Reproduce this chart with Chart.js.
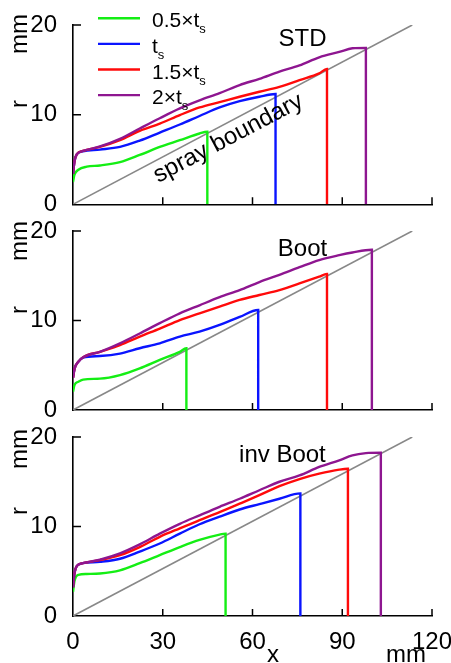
<!DOCTYPE html>
<html><head><meta charset="utf-8">
<script src="https://cdn.jsdelivr.net/npm/chart.js@4"></script>
<style>
html,body{margin:0;padding:0;background:#fff;width:451px;height:663px;overflow:hidden}
canvas{position:absolute;left:0;top:0}
</style></head><body>
<canvas id="c1" width="451" height="663" style="width:451px;height:663px"></canvas>
<canvas id="c2" width="451" height="663" style="width:451px;height:663px"></canvas>
<canvas id="c3" width="451" height="663" style="width:451px;height:663px"></canvas>
<script>
// ---------------- data ----------------
const xTickValues = [0, 30, 60, 90, 120];
const rTickValues = [0, 10, 20];
const seriesLabels = ['0.5×t_s', 't_s', '1.5×t_s', '2×t_s'];
const panelTitles = ['STD', 'Boot', 'inv Boot'];
const boundaryLabel = 'spray boundary';
const boundaryX = [0, 113.4];
const boundaryR = [0, 20];

// STD
const stdX05 = [0, 0.5, 1.8, 4.6, 9, 15.7, 22.3, 29, 35.7, 42.3, 44.9, 44.9];
const stdR05 = [2.5, 3.3, 3.85, 4.2, 4.33, 4.7, 5.5, 6.4, 7.15, 7.9, 8.1, 0];
const stdX10 = [0, 0.5, 1.3, 3.3, 9, 15.7, 22.3, 29, 35.7, 42.3, 49, 55.7, 62.3, 67.7, 67.7];
const stdR10 = [3.4, 4.8, 5.6, 5.9, 6.1, 6.4, 7.1, 8.0, 8.9, 9.85, 10.8, 11.5, 12.0, 12.3, 0];
const stdX15 = [0, 0.5, 1.3, 3.3, 9, 15.7, 22.3, 29, 35.7, 42.3, 49, 55.7, 62.3, 69, 75.7, 82.3, 84.9, 84.9];
const stdR15 = [3.4, 4.8, 5.6, 5.95, 6.4, 7.15, 8.2, 9.0, 9.95, 10.8, 11.4, 12.0, 12.55, 13.1, 13.85, 14.6, 15.1, 0];
const stdX20 = [0, 0.5, 1.3, 3.3, 9, 15.7, 22.3, 29, 35.7, 42.3, 49, 55.7, 62.3, 69, 75.7, 82.3, 89, 93.4, 97.9, 97.9];
const stdR20 = [3.4, 4.8, 5.6, 5.95, 6.45, 7.3, 8.45, 9.6, 10.7, 11.6, 12.4, 13.3, 14.0, 14.8, 15.5, 16.4, 17.0, 17.4, 17.45, 0];

// Boot
const bootX05 = [0, 0.5, 1.8, 3.4, 9, 15.7, 22.3, 29, 35.7, 37.9, 37.9];
const bootR05 = [2.05, 2.8, 3.15, 3.4, 3.5, 3.9, 4.65, 5.6, 6.5, 6.9, 0];
const bootX10 = [0, 0.5, 1.8, 3.4, 9, 15.7, 22.3, 29, 35.7, 42.3, 49, 55.7, 61.9, 61.9];
const bootR10 = [3.6, 4.6, 5.4, 5.85, 6.03, 6.3, 6.9, 7.45, 8.2, 8.75, 9.5, 10.4, 11.17, 0];
const bootX15 = [0, 0.5, 1.8, 3.4, 9, 15.7, 22.3, 29, 35.7, 42.3, 49, 55.7, 62.3, 69, 75.7, 82.3, 84.9, 84.9];
const bootR15 = [3.6, 4.6, 5.4, 5.9, 6.5, 7.25, 8.2, 9.1, 10.05, 10.8, 11.55, 12.3, 12.85, 13.4, 14.15, 14.9, 15.2, 0];
const bootX20 = [0, 0.5, 1.8, 3.4, 9, 15.7, 22.3, 29, 35.7, 42.3, 49, 55.7, 62.3, 69, 75.7, 82.3, 89, 93.4, 99.9, 99.9];
const bootR20 = [3.6, 4.6, 5.4, 5.9, 6.5, 7.45, 8.55, 9.7, 10.8, 11.7, 12.6, 13.4, 14.3, 15.1, 15.95, 16.75, 17.3, 17.6, 17.9, 0];

// inv Boot
const invX05 = [0, 0.5, 1.8, 4.6, 9, 15.7, 22.3, 29, 35.7, 42.3, 49, 51, 51];
const invR05 = [2.7, 3.9, 4.6, 4.7, 4.75, 5.1, 5.9, 6.8, 7.7, 8.5, 9.1, 9.2, 0];
const invX10 = [0, 0.5, 1.3, 3.3, 9, 15.7, 22.3, 29, 35.7, 42.3, 49, 55.7, 62.3, 69, 76, 76];
const invR10 = [3.2, 4.8, 5.6, 5.9, 6.05, 6.4, 7.2, 8.1, 9.2, 10.25, 11.1, 11.9, 12.5, 13.1, 13.7, 0];
const invX15 = [0, 0.5, 1.3, 3.3, 9, 15.7, 22.3, 29, 35.7, 42.3, 49, 55.7, 62.3, 69, 75.7, 82.3, 89, 91.9, 91.9];
const invR15 = [3.2, 4.8, 5.6, 5.9, 6.25, 6.8, 7.7, 8.85, 9.8, 10.7, 11.6, 12.55, 13.5, 14.5, 15.3, 15.9, 16.35, 16.45, 0];
const invX20 = [0, 0.5, 1.3, 3.3, 9, 15.7, 22.3, 29, 35.7, 42.3, 49, 55.7, 62.3, 69, 75.7, 82.3, 89, 93.4, 97.9, 102.9, 102.9];
const invR20 = [3.2, 4.8, 5.6, 5.9, 6.3, 7.0, 8.0, 9.2, 10.3, 11.25, 12.2, 13.1, 14.05, 15.0, 15.7, 16.65, 17.4, 17.95, 18.2, 18.25, 0];

// ---------------- styling ----------------
const FONT = "'Liberation Sans', Arial, Helvetica, sans-serif";
const COLORS = ['#14ee14', '#0a14ff', '#ff0a0a', '#8e1690'];
const GRAY = '#888888';
const W = 451, H = 663;
const LEFT = 73, RIGHT = 432;

function zip(xs, ys) { return xs.map((x, i) => ({x: x, y: ys[i]})); }

function buildDatasets(xsList, rsList) {
  const ds = xsList.map((xs, i) => ({
    label: seriesLabels[i],
    data: zip(xs, rsList[i]),
    borderColor: COLORS[i],
    borderWidth: 2.4,
    pointRadius: 0,
    cubicInterpolationMode: 'monotone',
    fill: false,
    order: 4 - i
  }));
  ds.push({
    label: boundaryLabel,
    data: zip(boundaryX, boundaryR),
    borderColor: GRAY,
    borderWidth: 1.6,
    pointRadius: 0,
    tension: 0,
    fill: false,
    order: 10
  });
  return ds;
}

function drawSubText(ctx, text, x, baseY, size, subSize, subDrop) {
  const parts = text.split('_');
  ctx.font = size + 'px ' + FONT;
  ctx.textAlign = 'left';
  ctx.textBaseline = 'alphabetic';
  ctx.fillText(parts[0], x, baseY);
  if (parts[1]) {
    const w = ctx.measureText(parts[0]).width;
    ctx.font = subSize + 'px ' + FONT;
    ctx.fillText(parts[1], x + w, baseY + subDrop);
  }
}

const panelPlugin = {
  id: 'panelDecor',
  afterDraw(chart, args, opts) {
    const {ctx, chartArea: a, scales: {x, y}} = chart;
    ctx.save();
    // inward tick marks
    ctx.strokeStyle = '#000';
    ctx.lineWidth = 1.5;
    ctx.beginPath();
    x.ticks.forEach(t => {
      if (t.value === 0) return;
      const px = x.getPixelForValue(t.value);
      ctx.moveTo(px, a.bottom); ctx.lineTo(px, a.bottom - 7);
    });
    y.ticks.forEach(t => {
      if (t.value === 0) return;
      const py = y.getPixelForValue(t.value);
      ctx.moveTo(a.left, py); ctx.lineTo(a.left + 8, py);
    });
    ctx.stroke();

    ctx.fillStyle = '#000';
    // panel title
    ctx.font = '24px ' + FONT;
    ctx.textAlign = 'center';
    ctx.textBaseline = 'middle';
    ctx.fillText(opts.title, x.getPixelForValue(opts.titleX), y.getPixelForValue(opts.titleR));

    // y axis label "mm" and "r" (rotated)
    ctx.save();
    ctx.translate(27, a.top + opts.mmOff);
    ctx.rotate(-Math.PI / 2);
    ctx.textAlign = 'center'; ctx.textBaseline = 'alphabetic';
    ctx.fillText('mm', 0, 0);
    ctx.restore();
    ctx.save();
    ctx.translate(27, a.top + opts.rOff);
    ctx.rotate(-Math.PI / 2);
    ctx.textAlign = 'center'; ctx.textBaseline = 'alphabetic';
    ctx.fillText('r', 0, 0);
    ctx.restore();

    if (opts.legend) {
      chart.data.datasets.slice(0, 4).forEach((d, i) => {
        const ly = 18.3 + 25.6 * i;
        ctx.strokeStyle = d.borderColor;
        ctx.lineWidth = 2.4;
        ctx.beginPath();
        ctx.moveTo(98, ly); ctx.lineTo(140, ly);
        ctx.stroke();
        ctx.fillStyle = '#000';
        drawSubText(ctx, d.label, 152, ly + 9, 21, 13, 6);
      });
      // spray boundary text
      const p0x = x.getPixelForValue(boundaryX[0]), p0y = y.getPixelForValue(boundaryR[0]);
      const p1x = x.getPixelForValue(boundaryX[1]), p1y = y.getPixelForValue(boundaryR[1]);
      const ang = Math.atan2(p1y - p0y, p1x - p0x);
      ctx.save();
      ctx.translate(x.getPixelForValue(51.9), y.getPixelForValue(7.35));
      ctx.rotate(ang);
      ctx.font = '24px ' + FONT;
      ctx.textAlign = 'center'; ctx.textBaseline = 'middle';
      ctx.fillStyle = '#000';
      ctx.fillText(boundaryLabel, 0, 0);
      ctx.restore();
    }
    if (opts.xTitle) {
      ctx.font = '24px ' + FONT;
      ctx.textAlign = 'center'; ctx.textBaseline = 'alphabetic';
      ctx.fillStyle = '#000';
      ctx.fillText('x', 273, 662);
      ctx.fillText('mm', 406, 662);
    }
    ctx.restore();
  }
};

function makePanel(id, top, bottom, xsList, rsList, showX, decor) {
  return new Chart(document.getElementById(id), {
    type: 'line',
    data: { datasets: buildDatasets(xsList, rsList) },
    options: {
      responsive: false,
      animation: false,
      events: [],
      layout: { padding: { top: top, right: W - RIGHT, bottom: 0, left: 0 } },
      plugins: { legend: { display: false }, tooltip: { enabled: false }, panelDecor: decor },
      scales: {
        x: {
          type: 'linear', min: 0, max: 120,
          afterBuildTicks: s => { s.ticks = xTickValues.map(v => ({value: v})); },
          ticks: { display: showX, color: '#000', font: { family: FONT, size: 24 }, padding: 4, maxRotation: 0, autoSkip: false },
          grid: { display: false },
          border: { display: true, color: '#000', width: 1.6 },
          afterFit: s => { s.height = H - bottom; s.paddingLeft = 0; s.paddingRight = 0; }
        },
        y: {
          type: 'linear', min: 0, max: 20,
          afterBuildTicks: s => { s.ticks = rTickValues.map(v => ({value: v})); },
          ticks: { color: '#000', font: { family: FONT, size: 24 }, padding: 8, autoSkip: false },
          grid: { display: false },
          border: { display: true, color: '#000', width: 1.6 },
          afterFit: s => { s.width = LEFT; s.paddingTop = 0; s.paddingBottom = 0; }
        }
      }
    },
    plugins: [panelPlugin]
  });
}

makePanel('c1', 25, 204.3,
  [stdX05, stdX10, stdX15, stdX20], [stdR05, stdR10, stdR15, stdR20], false,
  { title: panelTitles[0], titleX: 76.7, titleR: 18.4, mmOff: 9, rOff: 79, legend: true });
makePanel('c2', 231, 410,
  [bootX05, bootX10, bootX15, bootX20], [bootR05, bootR10, bootR15, bootR20], false,
  { title: panelTitles[1], titleX: 76.7, titleR: 18.0, mmOff: 10, rOff: 79 });
makePanel('c3', 437, 616,
  [invX05, invX10, invX15, invX20], [invR05, invR10, invR15, invR20], true,
  { title: panelTitles[2], titleX: 70, titleR: 17.95, mmOff: 12, rOff: 74, xTitle: true });
</script>
</body></html>
